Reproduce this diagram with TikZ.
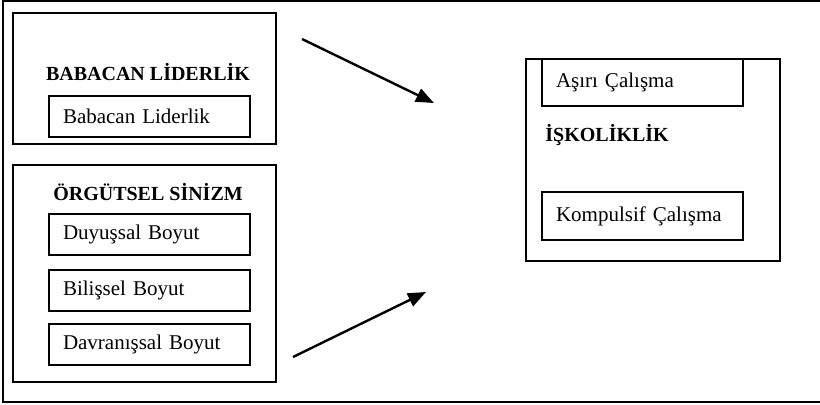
\documentclass[tikz,border=0pt]{standalone}
\usepackage{fontspec}
\setmainfont{Liberation Serif}
\usetikzlibrary{arrows.meta}
\tikzset{
  group/.style={draw, line width=0.6pt, inner sep=0pt},
  item/.style={draw, line width=0.6pt, inner xsep=7pt, inner ysep=0pt,
    text width=86.5pt, minimum height=20.5pt, align=left},
  heading/.style={font=\bfseries, inner sep=0pt},
  link/.style={line width=1.2pt, -{Triangle[length=9pt,width=7pt]}}
}
\begin{document}
\begin{tikzpicture}[x=0.5pt,y=-0.5pt,font=\fontsize{10.5}{12}\selectfont]
			\useasboundingbox (0,0) rectangle (820,404);
			\draw[line width=0.6pt] (820,1) -- (3,1) -- (3,402) -- (820,402);
			
			\node[group, minimum width=131.5pt, minimum height=65.5pt] (Bab) at (144.5,78.5) {};
			\node[heading] (BabT) at (148,72) {BABACAN LİDERLİK};
			\node[item] (BabI) at (149.5,116.5) {Babacan Liderlik};
			
			\node[group, minimum width=131.5pt, minimum height=108.5pt] (Org) at (144.5,273.5) {};
			\node[heading] (OrgT) at (148,192) {ÖRGÜTSEL SİNİZM};
			\node[item] (Duy) at (149.5,234.5) {Duyuşsal Boyut};
			\node[item] (Bil) at (149.5,290.5) {Bilişsel Boyut};
			\node[item] (Dav) at (149.5,344.5) {Davranışsal Boyut};
			
			\node[group, minimum width=127pt, minimum height=101pt] (Isk) at (653,160) {};
			\node[item, minimum height=23.5pt] (Asi) at (642.5,82.5) {Aşırı Çalışma};
			\node[heading, anchor=west] (IskT) at (545,135) {İŞKOLİKLİK};
			\node[item, minimum height=24pt] (Kom) at (642.5,216) {Kompulsif Çalışma};
			
			\coordinate (A1) at (302,39);
			\coordinate (A2) at (434,103);
			\coordinate (B1) at (293,357);
			\coordinate (B2) at (426,292);
			
			\draw[link] (A1) to (A2);
			\draw[link] (B1) to (B2);
\end{tikzpicture}
\end{document}
